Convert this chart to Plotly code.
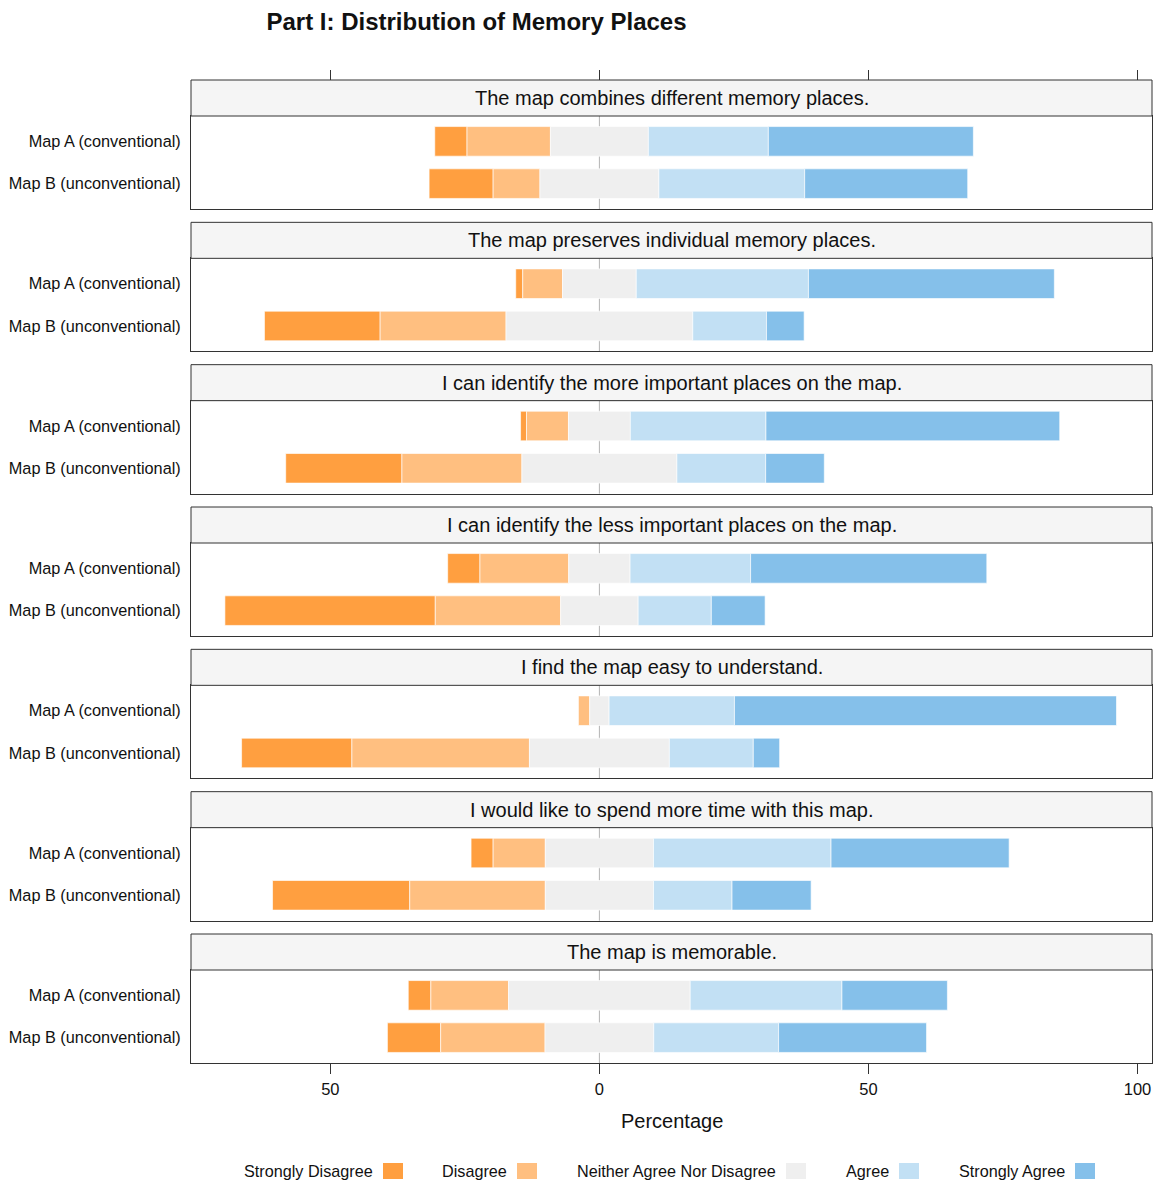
import plotly.graph_objects as go

# ---------------- data ----------------
questions = [
    "The map combines different memory places.",
    "The map preserves individual memory places.",
    "I can identify the more important places on the map.",
    "I can identify the less important places on the map.",
    "I find the map easy to understand.",
    "I would like to spend more time with this map.",
    "The map is memorable.",
]
groups = ["Map A (conventional)", "Map B (unconventional)"]
levels = ["Strongly Disagree", "Disagree", "Neither Agree Nor Disagree", "Agree", "Strongly Agree"]
colors = ["#FF9F40", "#FFBF80", "#EFEFEF", "#C2E0F4", "#85C0EA"]

# percentages per question: [Map A, Map B]
strongly_disagree = [[6.0, 11.9], [1.3, 21.5], [1.1, 21.6], [6.0, 39.1], [0.0, 20.5], [4.1, 25.5], [4.2, 9.9]]
disagree = [[15.5, 8.7], [7.4, 23.4], [7.8, 22.3], [16.5, 23.3], [2.1, 33.0], [9.7, 25.2], [14.45, 19.4]]
neutral = [[18.2, 22.1], [13.7, 34.7], [11.5, 28.8], [11.4, 14.4], [3.6, 26.0], [20.1, 20.1], [33.75, 20.2]]
agree = [[22.3, 27.1], [32.0, 13.7], [25.2, 16.5], [22.4, 13.6], [23.3, 15.6], [33.0, 14.6], [28.2, 23.2]]
strongly_agree = [[38.1, 30.3], [45.7, 7.0], [54.6, 10.9], [43.9, 10.0], [71.0, 4.9], [33.1, 14.7], [19.6, 27.5]]

tick_vals = [-50, 0, 50, 100]
tick_text = ["50", "0", "50", "100"]
x_range = [-75.9, 102.7]
reference_x = 0

# ---------------- layout geometry (pixels) ----------------
W, H = 1158, 1183
ML, MR, MT, MB = 191, 6, 80, 120
PH = H - MT - MB  # plot height in px
STRIP = 36
BODY = 93
PANEL = STRIP + BODY
PITCH = (PH - PANEL) / 6.0
BOTTOM_PX = H - MB

def py(px):
    return (BOTTOM_PX - px) / PH

def pxx(px):
    return (px - ML) / (W - ML - MR)

FONT = "Liberation Sans, Arial, sans-serif"
LINE = "#333333"
TXT = "#111111"
EDGE = "rgba(255,255,255,0.8)"

fig = go.Figure()
layout = dict(
    width=W, height=H,
    margin=dict(l=ML, r=MR, t=MT, b=MB),
    paper_bgcolor="white", plot_bgcolor="white",
    barmode="overlay",
    showlegend=False,
    font=dict(family=FONT, color=TXT),
    title=dict(text="<b>Part I: Distribution of Memory Places</b>",
               x=476.5 / W, xref="container", xanchor="center",
               y=1 - 22 / H, yref="container", yanchor="middle",
               font=dict(size=24, family=FONT, color=TXT)),
)
shapes = []
annotations = []

n = len(questions)
for i, q in enumerate(questions):
    sfx = "" if i == 0 else str(i + 1)
    xa, ya = "x" + sfx, "y" + sfx
    strip_top = MT + i * PITCH
    body_top = strip_top + STRIP
    body_bot = strip_top + PANEL

    # diverging layout: neutral centred on zero, disagreement to the left, agreement to the right
    half = [v / 2 for v in neutral[i]]
    base_n = [-h for h in half]
    base_d = [b - v for b, v in zip(base_n, disagree[i])]
    base_sd = [b - v for b, v in zip(base_d, strongly_disagree[i])]
    base_a = half
    base_sa = [b + v for b, v in zip(base_a, agree[i])]
    series = [
        (strongly_disagree[i], base_sd, colors[0]),
        (disagree[i], base_d, colors[1]),
        (neutral[i], base_n, colors[2]),
        (agree[i], base_a, colors[3]),
        (strongly_agree[i], base_sa, colors[4]),
    ]
    for vals, base, col in series:
        fig.add_trace(go.Bar(
            orientation="h", y=groups, x=vals, base=base, width=0.7,
            marker=dict(color=col, line=dict(color=EDGE, width=0.8)),
            xaxis=xa, yaxis=ya, hoverinfo="skip", showlegend=False,
        ))

    last = (i == n - 1)
    layout["xaxis" + sfx] = dict(
        domain=[0, 1], anchor=ya, range=x_range,
        showgrid=False, zeroline=False,
        showline=True, linecolor=LINE, linewidth=1, mirror=True,
        tickvals=tick_vals, ticktext=tick_text,
        showticklabels=last, ticks="outside" if last else "",
        ticklen=10, tickcolor=LINE, tickwidth=1, ticklabelstandoff=1,
        tickfont=dict(size=16.5, family=FONT, color=TXT),
        fixedrange=True,
    )
    layout["yaxis" + sfx] = dict(
        domain=[py(body_bot), py(body_top)], anchor=xa,
        type="category", categoryorder="array", categoryarray=groups,
        range=[1.6, -0.6],
        showgrid=False, zeroline=False,
        showline=True, linecolor=LINE, linewidth=1, mirror=True,
        ticks="", ticklabelstandoff=6,
        tickfont=dict(size=16.3, family=FONT, color=TXT),
        fixedrange=True,
    )
    # reference line at zero, behind the bars
    shapes.append(dict(type="line", xref=xa, yref=ya + " domain",
                       x0=reference_x, x1=reference_x, y0=0, y1=1,
                       line=dict(color="#b3b3b3", width=1), layer="below"))
    shapes.append(dict(type="rect", xref="paper", yref="paper",
                       x0=0, x1=1, y0=py(body_top), y1=py(strip_top),
                       fillcolor="#F5F5F5", line=dict(color=LINE, width=1), layer="above"))
    annotations.append(dict(text=q, xref="paper", yref="paper", x=0.5,
                            y=py(strip_top + STRIP / 2), xanchor="center", yanchor="middle",
                            showarrow=False, font=dict(size=20, family=FONT, color=TXT)))

# top ticks on the uppermost panel
layout["xaxis8"] = dict(
    overlaying="x", anchor="free", position=1, side="top", range=x_range,
    tickvals=tick_vals, ticktext=tick_text, showticklabels=False,
    ticks="outside", ticklen=10, tickcolor=LINE, tickwidth=1,
    showgrid=False, zeroline=False, showline=False, fixedrange=True,
)
fig.add_trace(go.Scatter(x=[x_range[0]], y=[groups[0]], xaxis="x8", yaxis="y",
                         mode="markers", marker=dict(opacity=0), hoverinfo="skip", showlegend=False))

# axis title
annotations.append(dict(text="Percentage", xref="paper", yref="paper", x=0.5, y=py(1121),
                        xanchor="center", yanchor="middle", showarrow=False,
                        font=dict(size=20, family=FONT, color=TXT)))

# manual legend: label followed by swatch
legend_text_end = [375, 509, 778, 891, 1067]
for lab, col, te in zip(levels, colors, legend_text_end):
    annotations.append(dict(text=lab, xref="paper", yref="paper", x=pxx(te), y=py(1171),
                            xanchor="right", yanchor="middle", showarrow=False,
                            font=dict(size=16.2, family=FONT, color=TXT)))
    shapes.append(dict(type="rect", xref="paper", yref="paper",
                       x0=pxx(te + 8), x1=pxx(te + 28), y0=py(1179), y1=py(1163),
                       fillcolor=col, line=dict(color="rgba(255,255,255,0)", width=0)))

layout["shapes"] = shapes
layout["annotations"] = annotations
fig.update_layout(**layout)
fig.write_html("out.html", config={"displayModeBar": False},
               post_script="document.body.style.margin='0px';")
